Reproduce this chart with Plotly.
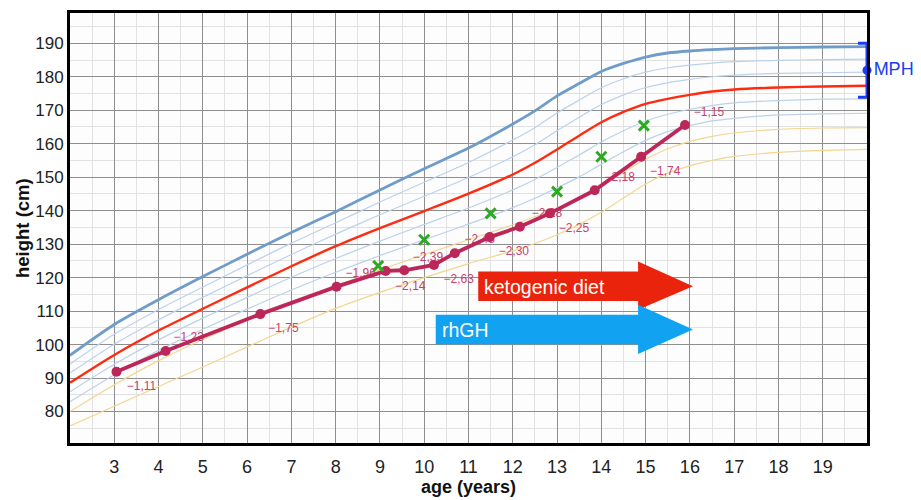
import plotly.graph_objects as go

# ---------------- reference curves ----------------
curve_age = [2, 3, 4, 5, 6, 7, 8, 9, 10, 11, 12, 12.5, 13, 13.5, 14, 14.5, 15, 15.5, 16, 16.5, 17, 18, 19, 20]
p97 = [96.8, 106.0, 113.4, 120.3, 127.0, 133.5, 139.7, 146.2, 152.5, 158.7, 165.9, 169.8, 174.3, 178.0, 181.6, 184.0, 185.9, 187.1, 187.7, 188.1, 188.4, 188.7, 188.9, 189.0]
p90 = [94.2, 103.1, 110.5, 117.2, 123.8, 130.3, 136.4, 142.6, 148.5, 154.4, 161.1, 164.8, 169.2, 173.0, 176.7, 179.4, 181.4, 182.7, 183.5, 184.1, 184.5, 184.9, 185.1, 185.3]
p75 = [91.5, 100.1, 107.4, 114.1, 120.6, 126.9, 133.0, 138.8, 144.3, 149.9, 156.1, 159.7, 163.9, 167.9, 171.7, 174.6, 176.8, 178.2, 179.2, 180.0, 180.5, 181.0, 181.2, 181.4]
p50 = [88.6, 96.9, 104.2, 110.7, 117.1, 123.4, 129.4, 134.8, 139.9, 145.1, 150.8, 154.3, 158.3, 162.4, 166.4, 169.5, 171.9, 173.4, 174.6, 175.6, 176.2, 176.8, 177.1, 177.3]
p25 = [85.9, 94.1, 101.4, 107.9, 114.1, 120.1, 125.7, 130.9, 135.9, 140.8, 146.2, 149.3, 152.9, 156.6, 160.5, 163.9, 166.8, 168.8, 170.3, 171.4, 172.2, 172.9, 173.3, 173.4]
p10 = [82.9, 91.0, 98.3, 104.6, 110.6, 116.3, 121.6, 126.6, 131.3, 136.0, 140.9, 143.7, 146.8, 150.1, 153.9, 157.6, 161.0, 163.6, 165.4, 166.8, 167.6, 168.6, 168.9, 169.1]
p3 = [80.0, 88.0, 95.2, 101.5, 107.3, 112.6, 117.6, 122.3, 126.9, 131.3, 135.8, 138.2, 140.8, 143.8, 147.4, 151.5, 155.4, 158.5, 160.7, 162.2, 163.2, 164.3, 164.7, 164.8]
sdm3 = [75.7, 81.6, 87.5, 93.3, 99.3, 105.2, 110.8, 115.6, 120.0, 124.2, 128.0, 130.2, 132.8, 135.9, 139.5, 143.8, 148.0, 151.2, 153.4, 155.0, 156.2, 157.4, 158.0, 158.3]

# ---------------- patient measurements ----------------
patient_age = [3.05, 4.16, 6.30, 8.02, 9.13, 9.55, 10.22, 10.69, 11.48, 12.16, 12.84, 13.85, 14.90, 15.89]
patient_height = [91.9, 98.1, 109.1, 117.3, 122.0, 122.2, 123.8, 127.3, 132.1, 135.2, 139.2, 146.1, 156.1, 165.6]

# SDS labels: text and index of the measurement they belong to
sds_text = ["−1,11", "−1,23", "−1,75", "−1,96", "−2,14", "−2,39", "−2,63", "−2,48",
            "−2,30", "−2,28", "−2,25", "−2,18", "−1,74", "−1,15"]
sds_point = [0, 1, 2, 4, 5, 6, 7, 8, 9, 10, 10, 11, 12, 13]

# target (green x) heights
target_age = [8.96, 10.0, 11.5, 13.0, 14.0, 14.96]
target_height = [123.5, 131.3, 139.2, 145.7, 156.1, 165.4]

# mid-parental height and its range
mph_value = 181.95
mph_range = 8.05

x_ticks = list(range(3, 20))

# ---------------- layout constants ----------------
# the page body adds an 8px offset, so the figure is 8px smaller each way
W, H = 913, 492
ML, MR, MT, MB = 62, 54, 5, 57
XR = [2, 20]
YR = [70.6, 199.05]
PX_X = (W - ML - MR) / (XR[1] - XR[0])
PX_Y = (H - MT - MB) / (YR[1] - YR[0])
# pixel offsets (dx right, dy down) of each SDS label from its point
label_offsets = [(25, 15), (23, -13), (23, 15), (-25, 3), (6, 17), (-6, -7), (4, 27), (-10, 3),
                 (-6, 25), (-3, 1), (24, 16), (25, -12), (24, 15), (24, -12)]

FONT = "Liberation Sans, Arial, Helvetica, sans-serif"

fig = go.Figure()

thin = [(sdm3, "#f3d68f"), (p3, "#f3d68f"), (p10, "#bcd2ea"), (p25, "#bcd2ea"),
        (p75, "#bcd2ea"), (p90, "#bcd2ea")]
for vals, col in thin:
    fig.add_trace(go.Scatter(x=curve_age, y=vals, mode="lines",
                             line=dict(color=col, width=1.2, shape="spline", smoothing=0.7),
                             hoverinfo="skip", showlegend=False))
fig.add_trace(go.Scatter(x=curve_age, y=p50, mode="lines",
                         line=dict(color="#ff2a10", width=2.4, shape="spline", smoothing=0.7),
                         showlegend=False))
fig.add_trace(go.Scatter(x=curve_age, y=p97, mode="lines",
                         line=dict(color="#6f9cc8", width=2.8, shape="spline", smoothing=0.7),
                         showlegend=False))

# SDS labels (drawn beneath the patient line)
lx = [patient_age[i] + dx / PX_X for i, (dx, dy) in zip(sds_point, label_offsets)]
ly = [patient_height[i] - dy / PX_Y for i, (dx, dy) in zip(sds_point, label_offsets)]
fig.add_trace(go.Scatter(x=lx, y=ly, mode="text", text=sds_text, textposition="middle center",
                         textfont=dict(family=FONT, size=12, color="#c8416f"),
                         showlegend=False, hoverinfo="skip"))

fig.add_trace(go.Scatter(x=patient_age, y=patient_height, mode="lines+markers",
                         line=dict(color="#bd2659", width=3.8),
                         marker=dict(color="#bd2659", size=10),
                         showlegend=False))

fig.add_trace(go.Scatter(x=target_age, y=target_height, mode="markers",
                         marker=dict(symbol="x-thin", size=10, line=dict(color="#2eaa22", width=3)),
                         showlegend=False))

fig.add_trace(go.Scatter(x=[20], y=[mph_value], mode="markers+text", text=["MPH"],
                         textposition="middle right",
                         textfont=dict(family=FONT, size=18, color="#1a3cf2"),
                         marker=dict(color="#1a3cf2", size=9),
                         error_y=dict(type="data", array=[mph_range], color="#1a3cf2",
                                      thickness=3, width=9),
                         cliponaxis=False, showlegend=False))

# treatment arrows
def arrow(x0, x1, x2, yb0, yb1, yh0, yh1):
    ym = (yb0 + yb1) / 2
    return (f"M{x0},{yb0} L{x1},{yb0} L{x1},{yh0} L{x2},{ym} L{x1},{yh1} "
            f"L{x1},{yb1} L{x0},{yb1} Z")

fig.add_shape(type="path", xref="x", yref="y",
              path=arrow(11.22, 14.83, 16.07, 113.05, 121.8, 110.4, 124.8),
              fillcolor="#ea230c", line=dict(width=0))
fig.add_shape(type="path", xref="x", yref="y",
              path=arrow(10.26, 14.83, 16.07, 100.1, 108.9, 97.2, 111.9),
              fillcolor="#12a2f2", line=dict(width=0))
fig.add_annotation(x=11.30, y=117.2, text="ketogenic diet", showarrow=False, xanchor="left",
                   yanchor="middle", font=dict(family=FONT, size=19.5, color="white"))
fig.add_annotation(x=10.36, y=104.4, text="rhGH", showarrow=False, xanchor="left",
                   yanchor="middle", font=dict(family=FONT, size=19.5, color="white"))

# axis titles
fig.add_annotation(xref="paper", yref="paper", x=0.5, y=0, yshift=-44, yanchor="middle",
                   text="<b>age (years)</b>", showarrow=False,
                   font=dict(family=FONT, size=18, color="#111"))
fig.add_annotation(xref="paper", yref="paper", x=0, y=0.5, xshift=-48, xanchor="center",
                   text="<b>height (cm)</b>", textangle=-90, showarrow=False,
                   font=dict(family=FONT, size=18.5, color="#111"))

fig.update_layout(
    width=W, height=H,
    margin=dict(l=ML, r=MR, t=MT, b=MB, autoexpand=False),
    paper_bgcolor="white", plot_bgcolor="#fdfdfd",
    font=dict(family=FONT, color="#222"),
    xaxis=dict(range=XR, tickmode="array", tickvals=x_ticks, showgrid=True,
               gridcolor="#8e8e8e", gridwidth=1,
               minor=dict(tick0=0, dtick=0.5, showgrid=True, gridcolor="#e2e2e2", gridwidth=1),
               showline=True, linecolor="black", linewidth=3, mirror=True, zeroline=False,
               ticks="", ticklabelstandoff=5, tickfont=dict(size=18, color="#222")),
    yaxis=dict(range=YR, tickmode="linear", tick0=0, dtick=10, showgrid=True,
               gridcolor="#8e8e8e", gridwidth=1,
               minor=dict(tick0=0, dtick=5, showgrid=True, gridcolor="#e2e2e2", gridwidth=1),
               showline=True, linecolor="black", linewidth=3, mirror=True, zeroline=False,
               ticks="", tickfont=dict(size=17, color="#222")),
)

fig.write_html("out.html")
